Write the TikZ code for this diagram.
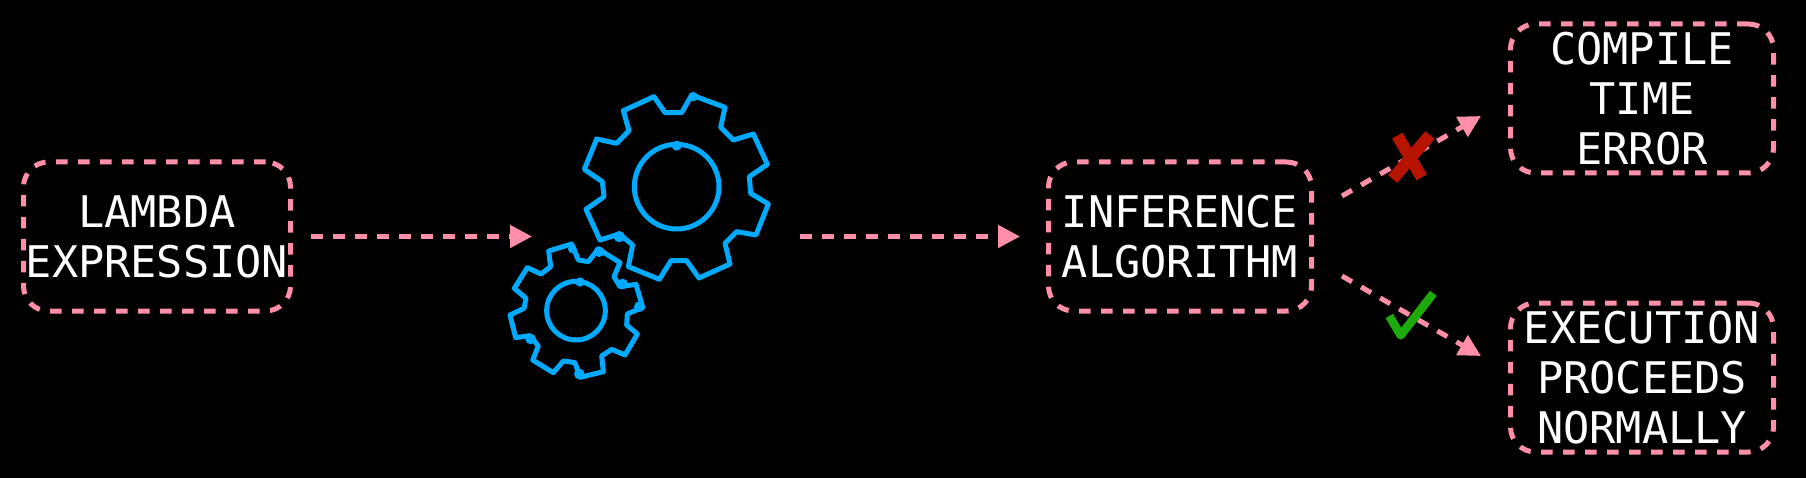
\documentclass[tikz,border=0pt]{standalone}
\usepackage{fontspec}
\setmonofont{DejaVu Sans Mono}
\usetikzlibrary{arrows.meta}
\definecolor{pinkc}{HTML}{FF8FA8}
\definecolor{bluec}{HTML}{00AAFF}
\definecolor{redc}{HTML}{B71400}
\definecolor{greenc}{HTML}{1CAB0A}
\tikzset{
  termbox/.style={draw=pinkc,line width=5pt,dash pattern=on 11.5pt off 10.5pt,rounded corners=25pt,
    minimum width=267pt,minimum height=149pt,inner sep=0pt,outer sep=0pt,align=center,text=white,
    font=\ttfamily\fontsize{43.6}{50}\selectfont},
  narrowbox/.style={termbox,minimum width=263pt},
  flow/.style={draw=pinkc,line width=5pt,dash pattern=on 11.5pt off 10.5pt,
    -{Triangle[length=22pt,width=22pt,fill=pinkc,sep=0pt]}},
  gearline/.style={draw=bluec,line width=5pt,line join=round},
  blob/.style={fill=bluec},
  crossline/.style={draw=redc,line width=12pt},
  checkline/.style={draw=greenc,line width=8.5pt,line join=round}
}
\begin{document}
\begin{tikzpicture}[x=1pt,y=-1pt]
\path[use as bounding box,fill=black] (0,0) rectangle (1806,478);
\node[termbox] (lambda) at (157,236.5) {LAMBDA\\EXPRESSION};
\node[narrowbox] (infer) at (1180,236.5) {INFERENCE\\ALGORITHM};
\node[narrowbox] (compile) at (1642,98.5) {COMPILE\\TIME\\ERROR};
\node[narrowbox] (exec) at (1642,377.5) {EXECUTION\\PROCEEDS\\NORMALLY};
\coordinate (gearin) at (532,236.5);
\coordinate (gearout) at (800,236.5);
\coordinate (lambdaout) at (311,236.5);
\coordinate (inferin) at (1020,236.5);
\coordinate (upstart) at (1342,196);
\coordinate (upend) at (1481,116);
\coordinate (downstart) at (1342,276);
\coordinate (downend) at (1481,356);
\draw[flow] (lambdaout) -- (gearin);
\draw[flow] (gearout) -- (inferin);
\draw[flow] (upstart) -- (upend);
\draw[flow] (downstart) -- (downend);
\begin{scope}[xshift=480pt,yshift=-70pt,x=0.33333pt,y=-0.33333pt]
\draw[gearline] (522,80)--(555,128)--(605,128)--(635,75)--(735,112)--(722,172)--(760,210)--(820,192)--(862,283)--(808,320)--(812,370)--(865,402)--(828,495)--(770,485)--(735,520)--(750,582)--(657,624)--(620,572)--(573,572)--(538,628)--(445,590)--(458,525)--(418,492)--(360,510)--(318,418)--(372,380)--(367,335)--(313,298)--(350,207)--(410,220)--(447,182)--(430,122)--cycle;
\draw[gearline] (590,350) circle[radius=127];
\draw[gearline] (275,522)--(295,570)--(325,575)--(355,537)--(420,578)--(402,620)--(420,650)--(468,643)--(488,712)--(442,732)--(440,765)--(472,792)--(435,855)--(395,838)--(365,858)--(370,905)--(300,922)--(285,878)--(250,873)--(220,908)--(158,870)--(175,828)--(150,797)--(107,803)--(90,735)--(132,715)--(138,685)--(103,655)--(142,593)--(183,612)--(212,590)--(206,543)--cycle;
\draw[gearline] (288,722) circle[radius=88];
\fill[blob] (640,80) circle[radius=14];
\fill[blob] (590,227) circle[radius=15];
\fill[blob] (418,500) circle[radius=17];
\fill[blob] (357,545) circle[radius=16];
\fill[blob] (428,642) circle[radius=16];
\fill[blob] (478,710) circle[radius=16];
\fill[blob] (152,807) circle[radius=16];
\fill[blob] (298,912) circle[radius=16];
\fill[blob] (300,636) circle[radius=14];
\fill[blob] (277,537) circle[radius=13];
\end{scope}
\begin{scope}[xshift=1300pt,yshift=-80pt,x=0.33333pt,y=-0.33333pt]
\draw[crossline] (390,165)--(278,297);
\draw[crossline] (292,167)--(365,292);
\draw[checkline] (268,708)--(302,766)--(400,640);
\end{scope}
\end{tikzpicture}
\end{document}
